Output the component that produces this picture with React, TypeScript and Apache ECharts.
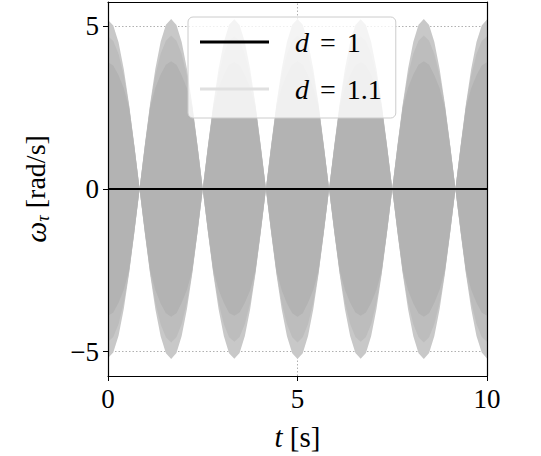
import React, { useEffect, useRef } from 'react';
import * as echarts from 'echarts';

const FONT = 'Liberation Serif';

// sample times [s]
const tValues = [
  0, 0.139, 0.278, 0.417, 0.556, 0.694, 0.833, 0.972, 1.111, 1.25, 1.389, 1.528,
  1.667, 1.806, 1.944, 2.083, 2.222, 2.361, 2.5, 2.639, 2.778, 2.917, 3.056, 3.194,
  3.333, 3.472, 3.611, 3.75, 3.889, 4.028, 4.167, 4.306, 4.444, 4.583, 4.722, 4.861,
  5.0, 5.139, 5.278, 5.417, 5.556, 5.694, 5.833, 5.972, 6.111, 6.25, 6.389, 6.528,
  6.667, 6.806, 6.944, 7.083, 7.222, 7.361, 7.5, 7.639, 7.778, 7.917, 8.056, 8.194,
  8.333, 8.472, 8.611, 8.75, 8.889, 9.028, 9.167, 9.306, 9.444, 9.583, 9.722, 9.861, 10.0,
];

// d = 1.1 : outer envelope of the fast oscillation (rad/s)
const envOuter = [
  5.2, 5.03, 4.51, 3.68, 2.6, 1.35, 0.03,
  1.36, 2.62, 3.7, 4.53, 5.05, 5.23,
  5.04, 4.52, 3.69, 2.61, 1.35, 0.02,
  1.35, 2.61, 3.69, 4.52, 5.05, 5.22,
  5.04, 4.52, 3.7, 2.62, 1.36, 0.03,
  1.36, 2.62, 3.7, 4.53, 5.05, 5.23,
  5.05, 4.52, 3.69, 2.61, 1.35, 0.02,
  1.35, 2.61, 3.69, 4.52, 5.04, 5.22,
  5.04, 4.52, 3.69, 2.61, 1.35, 0.02,
  1.36, 2.62, 3.7, 4.53, 5.05, 5.23,
  5.04, 4.52, 3.69, 2.61, 1.35, 0.03,
  1.35, 2.61, 3.69, 4.52, 5.03, 5.21,
];

// d = 1.1 : denser middle part of the oscillation
const envMid = [
  4.7, 4.55, 4.15, 3.5, 2.56, 1.33, 0.0,
  1.33, 2.57, 3.51, 4.16, 4.56, 4.72,
  4.56, 4.15, 3.5, 2.56, 1.33, 0.0,
  1.33, 2.56, 3.5, 4.15, 4.56, 4.7,
  4.55, 4.15, 3.51, 2.57, 1.33, 0.0,
  1.33, 2.57, 3.51, 4.16, 4.56, 4.72,
  4.56, 4.15, 3.5, 2.56, 1.33, 0.0,
  1.33, 2.56, 3.5, 4.15, 4.55, 4.7,
  4.55, 4.15, 3.5, 2.56, 1.33, 0.0,
  1.33, 2.57, 3.51, 4.16, 4.56, 4.72,
  4.56, 4.15, 3.5, 2.56, 1.33, 0.0,
  1.33, 2.56, 3.5, 4.15, 4.55, 4.7,
];

// d = 1.1 : dense core of the oscillation
const envInner = [
  3.9, 3.8, 3.5, 3.1, 2.5, 1.3, 0.0,
  1.3, 2.5, 3.11, 3.52, 3.82, 3.93,
  3.82, 3.5, 3.1, 2.5, 1.3, 0.0,
  1.3, 2.5, 3.1, 3.5, 3.81, 3.9,
  3.8, 3.5, 3.11, 2.51, 1.3, 0.0,
  1.3, 2.51, 3.11, 3.52, 3.82, 3.93,
  3.82, 3.5, 3.1, 2.5, 1.3, 0.0,
  1.3, 2.5, 3.1, 3.5, 3.8, 3.9,
  3.8, 3.5, 3.1, 2.5, 1.3, 0.0,
  1.3, 2.51, 3.11, 3.52, 3.82, 3.93,
  3.82, 3.5, 3.1, 2.5, 1.3, 0.0,
  1.3, 2.5, 3.1, 3.5, 3.8, 3.9,
];

// d = 1 : stays at zero
const d1Times = [0, 10];
const d1Values = [0, 0];

const xTicks = [0, 5, 10];
const yTicks = [-5, 0, 5];
const gridY = [-5, 5];
const gridX = [5];

export default function App() {
  const ref = useRef<HTMLDivElement>(null);

  useEffect(() => {
    const chart = echarts.init(ref.current!, null, { renderer: 'svg' });

    const band = (env: number[], sign: number, color: string) => ({
      name: 'd = 1.1',
      type: 'line',
      data: tValues.map((t, i) => [t, sign * env[i]]),
      showSymbol: false,
      symbol: 'none',
      silent: true,
      color,
      z: 2,
      lineStyle: { width: 0, opacity: 0 },
      areaStyle: { color, opacity: 1 },
    });

    chart.setOption({
      animation: false,
      backgroundColor: '#ffffff',
      textStyle: { fontFamily: FONT },
      grid: { left: 108, right: 54, top: 2, bottom: 80, containLabel: false },
      legend: {
        orient: 'vertical',
        left: 188,
        top: 17,
        padding: [10, 14, 14, 12],
        itemGap: 17,
        itemWidth: 69,
        itemHeight: 3,
        icon: 'rect',
        selectedMode: false,
        backgroundColor: 'rgba(255,255,255,0.8)',
        borderColor: '#cccccc',
        borderWidth: 1,
        borderRadius: 5,
        z: 20,
        textStyle: {
          fontFamily: FONT,
          fontSize: 28,
          color: '#000',
          lineHeight: 30,
          padding: [0, 0, 0, 21],
          rich: {
            i: { fontFamily: FONT, fontSize: 28, fontStyle: 'italic', color: '#000', lineHeight: 30 },
            e: { fontFamily: FONT, fontSize: 28, color: '#000', padding: [0, 4], lineHeight: 30 },
            n: { fontFamily: FONT, fontSize: 28, color: '#000', lineHeight: 30 },
          },
        },
        formatter: (name: string) => '{i|d} {e|=} {n|' + name.split('= ')[1] + '}',
        data: [
          { name: 'd = 1', itemStyle: { color: '#000000' } },
          { name: 'd = 1.1', itemStyle: { color: '#e0e0e0' } },
        ],
      },
      xAxis: [
        {
          type: 'value',
          min: 0,
          max: 10,
          interval: 5,
          z: 10,
          axisLine: { show: true, onZero: false, lineStyle: { color: '#000', width: 1.2 } },
          axisTick: { show: true, length: 5, lineStyle: { color: '#000', width: 1 }, customValues: xTicks },
          axisLabel: { fontFamily: FONT, fontSize: 27, color: '#000', margin: 9, customValues: xTicks },
          splitLine: { show: false },
          name: '{i|t} [s]',
          nameLocation: 'middle',
          nameGap: 46,
          nameTextStyle: {
            fontFamily: FONT,
            fontSize: 29,
            color: '#000',
            rich: { i: { fontFamily: FONT, fontSize: 29, fontStyle: 'italic', color: '#000' } },
          },
        },
        {
          type: 'value',
          position: 'top',
          min: 0,
          max: 10,
          interval: 5,
          z: 10,
          axisLine: { show: true, onZero: false, lineStyle: { color: '#000', width: 1.2 } },
          axisTick: { show: false },
          axisLabel: { show: false },
          splitLine: { show: false },
        },
      ],
      yAxis: [
        {
          type: 'value',
          min: -5.75,
          max: 5.75,
          z: 10,
          axisLine: { show: true, onZero: false, lineStyle: { color: '#000', width: 1.2 } },
          axisTick: { show: true, length: 5, lineStyle: { color: '#000', width: 1 }, customValues: yTicks },
          axisLabel: {
            fontFamily: FONT,
            fontSize: 27,
            color: '#000',
            margin: 9,
            customValues: yTicks,
            formatter: (v: number) => (v < 0 ? '\u2212' + Math.abs(v) : String(v)),
          },
          splitLine: { show: false },
          name: '{w|\u03c9}{s|\u03c4} {n|[rad/s]}',
          nameLocation: 'middle',
          nameRotate: 90,
          nameGap: 56,
          nameTextStyle: {
            fontFamily: FONT,
            fontSize: 28,
            color: '#000',
            lineHeight: 34,
            rich: {
              w: { fontFamily: FONT, fontSize: 30, fontStyle: 'italic', color: '#000', lineHeight: 34 },
              s: { fontFamily: FONT, fontSize: 18, fontStyle: 'italic', color: '#000', lineHeight: 34, padding: [16, 0, 0, 0] },
              n: { fontFamily: FONT, fontSize: 28, color: '#000', lineHeight: 34 },
            },
          },
        },
        {
          type: 'value',
          position: 'right',
          min: -5.75,
          max: 5.75,
          z: 10,
          axisLine: { show: true, onZero: false, lineStyle: { color: '#000', width: 1.2 } },
          axisTick: { show: false },
          axisLabel: { show: false },
          splitLine: { show: false },
        },
      ],
      series: [
        {
          name: 'grid',
          type: 'line',
          data: [],
          silent: true,
          z: 1,
          markLine: {
            silent: true,
            symbol: 'none',
            z: 1,
            animation: false,
            label: { show: false },
            lineStyle: { color: '#b0b0b0', width: 1, type: [1.5, 2] },
            data: [...gridY.map((v) => ({ yAxis: v })), ...gridX.map((v) => ({ xAxis: v }))],
          },
        },
        band(envOuter, 1, '#c8c8c8'),
        band(envOuter, -1, '#c8c8c8'),
        band(envMid, 1, '#bdbdbd'),
        band(envMid, -1, '#bdbdbd'),
        band(envInner, 1, '#b3b3b3'),
        band(envInner, -1, '#b3b3b3'),
        {
          name: 'd = 1',
          type: 'line',
          data: d1Times.map((t, i) => [t, d1Values[i]]),
          showSymbol: false,
          symbol: 'none',
          silent: true,
          color: '#000',
          z: 5,
          lineStyle: { color: '#000', width: 2 },
        },
      ],
    });

    return () => chart.dispose();
  }, []);

  return <div ref={ref} style={{ position: 'fixed', left: 0, top: 0, width: 541, height: 456 }} />;
}
